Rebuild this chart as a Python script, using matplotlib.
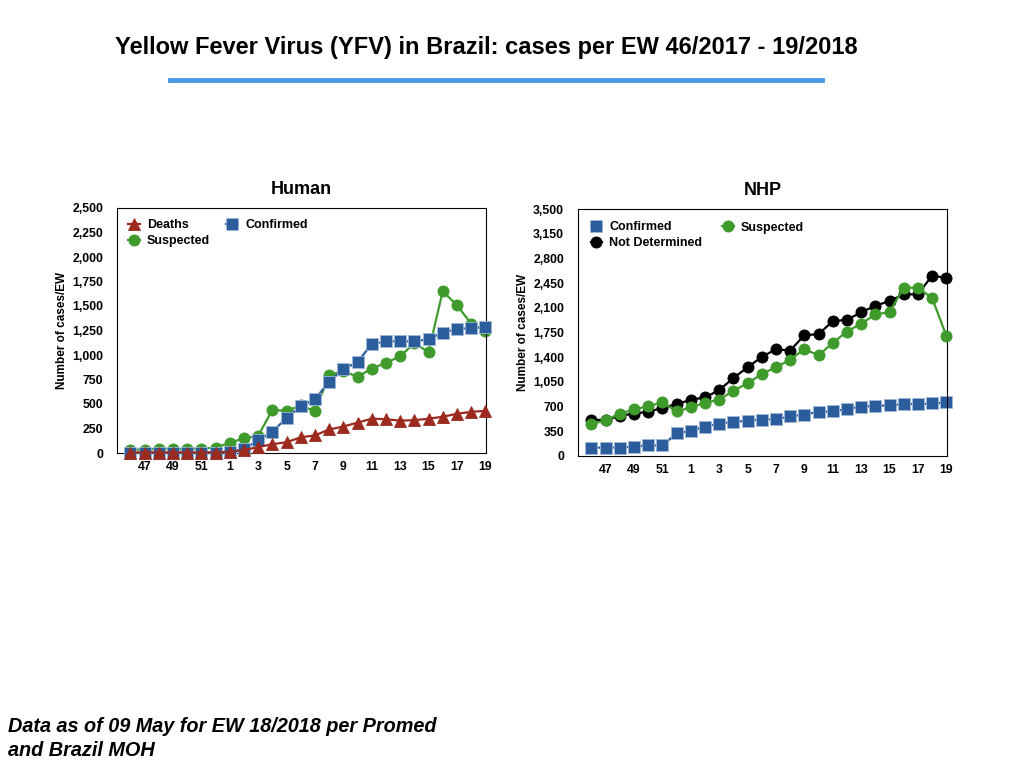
import numpy as np
import matplotlib
matplotlib.use("Agg")
import matplotlib.pyplot as plt

plt.rcParams['font.family'] = ['Liberation Sans', 'DejaVu Sans']

# Epidemiological weeks 46/2017 - 19/2018
weeks = [46, 47, 48, 49, 50, 51, 52] + list(range(1, 20))
tick_labels = ['47', '49', '51', '1', '3', '5', '7', '9', '11', '13', '15', '17', '19']

# Human cases per EW
human_deaths = [5, 5, 5, 5, 5, 5, 5, 10, 30, 60, 90, 110, 160, 180, 240, 270,
                310, 350, 345, 330, 335, 350, 370, 400, 420, 430]
human_confirmed = [5, 5, 5, 5, 5, 5, 5, 15, 40, 130, 215, 360, 475, 550, 728, 855,
                   930, 1110, 1140, 1140, 1140, 1160, 1228, 1265, 1275, 1285]
human_suspected = [35, 35, 45, 40, 40, 45, 55, 105, 150, 176, 440, 430, 485, 427, 792, 838,
                   777, 862, 919, 987, 1120, 1031, 1650, 1509, 1320, 1245]

# Non-human primates (NHP) per EW
nhp_confirmed = [119, 119, 119, 133, 150, 150, 322, 356, 417, 460, 484, 498, 517, 522, 560, 588,
                 626, 631, 669, 697, 711, 716, 735, 735, 745, 759]
nhp_not_determined = [512, 512, 569, 602, 626, 683, 735, 797, 830, 934, 1105, 1257, 1404, 1513,
                      1494, 1712, 1726, 1911, 1930, 2035, 2129, 2196, 2291, 2291, 2556, 2523]
nhp_suspected = [451, 507, 602, 659, 707, 759, 631, 688, 754, 797, 925, 1029, 1162, 1257, 1366,
                 1513, 1428, 1603, 1764, 1873, 2006, 2039, 2385, 2385, 2238, 1707]

RED = '#9c2a1f'
BLUE = '#2b5c9b'
GREEN = '#3f9a2c'
BLACK = '#000000'

x = np.arange(len(weeks))


def style_axis(ax, ymax, ystep, title):
    ax.set_xlim(-0.95, len(weeks) - 1 + 0.05)
    ax.set_ylim(0, ymax)
    ax.set_yticks(np.arange(0, ymax + 1, ystep))
    ax.set_yticklabels([f"{v:,}" for v in np.arange(0, ymax + 1, ystep)],
                       fontsize=8.8, fontweight='bold')
    ax.set_xticks(x[1::2])
    ax.set_xticklabels(tick_labels, fontsize=8.8, fontweight='bold')
    ax.tick_params(axis='y', length=0, pad=10)
    ax.tick_params(axis='x', length=0, pad=6)
    ax.set_ylabel("Number of cases/EW", fontsize=8.5, fontweight='bold', labelpad=3)
    ax.set_title(title, fontsize=13, fontweight='bold', pad=10)
    for s in ax.spines.values():
        s.set_linewidth(0.8)


def plot_series(ax, y, color, marker, label, ms=8, mec=None, z=2):
    ax.plot(x, y, color=color, marker=marker, markersize=ms, linewidth=1.6,
            markeredgecolor=mec if mec else color, markeredgewidth=0.6,
            label=label, clip_on=False, zorder=z)


fig = plt.figure(figsize=(10.24, 7.68), dpi=100)

fig.text(0.475, 0.938, "Yellow Fever Virus (YFV) in Brazil: cases per EW 46/2017 - 19/2018",
         ha='center', va='center', fontsize=17, fontweight='bold')
fig.add_artist(plt.Line2D([170 / 1024, 822 / 1024], [1 - 80 / 768, 1 - 80 / 768],
                          color='#4a98e3', linewidth=3.5))

# Human panel
ax1 = fig.add_axes([117 / 1024, 1 - 453 / 768, 369 / 1024, 245 / 768])
plot_series(ax1, human_suspected, GREEN, 'o', 'Suspected', z=2)
plot_series(ax1, human_confirmed, BLUE, 's', 'Confirmed', mec='#9fb8d8', z=3)
plot_series(ax1, human_deaths, RED, '^', 'Deaths', z=4)
style_axis(ax1, 2500, 250, "Human")
h, l = ax1.get_legend_handles_labels()
order = [2, 0, 1]
ax1.legend([h[i] for i in order], [l[i] for i in order], ncol=2, loc='upper left',
           frameon=False, prop={'weight': 'bold', 'size': 9},
           handlelength=0.9, handletextpad=0.6, columnspacing=1.3,
           labelspacing=0.3, borderaxespad=0.5)

# NHP panel
ax2 = fig.add_axes([578 / 1024, 1 - 456 / 768, 369 / 1024, 247 / 768])
plot_series(ax2, nhp_confirmed, BLUE, 's', 'Confirmed', mec='#9fb8d8', z=2)
plot_series(ax2, nhp_not_determined, BLACK, 'o', 'Not Determined', z=3)
plot_series(ax2, nhp_suspected, GREEN, 'o', 'Suspected', z=4)
style_axis(ax2, 3500, 350, "NHP")
h, l = ax2.get_legend_handles_labels()
order = [0, 1, 2]
ax2.legend([h[i] for i in order], [l[i] for i in order], ncol=2, loc='upper left',
           frameon=False, prop={'weight': 'bold', 'size': 9},
           handlelength=0.9, handletextpad=0.6, columnspacing=1.6,
           labelspacing=0.3, borderaxespad=0.6)

fig.text(8 / 1024, 1 - 727 / 768, "Data as of 09 May for EW 18/2018 per Promed",
         ha='left', va='center', fontsize=14.3, fontweight='bold', style='italic')
fig.text(8 / 1024, 1 - 750 / 768, "and Brazil MOH",
         ha='left', va='center', fontsize=14.3, fontweight='bold', style='italic')

fig.savefig("out.png", dpi=100)
